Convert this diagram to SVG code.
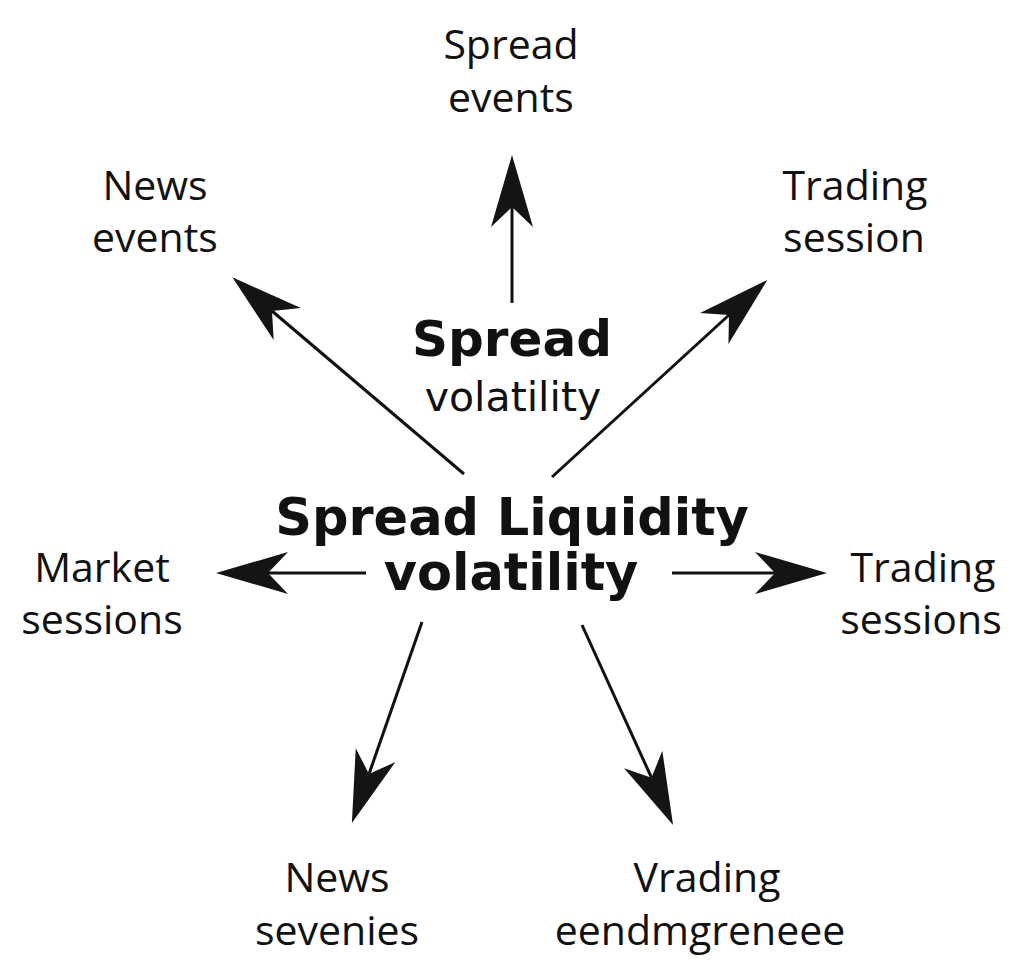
<svg xmlns="http://www.w3.org/2000/svg" width="1024" height="980" viewBox="0 0 1024 980">
  <style>
    .lbl { font-family: "Open Sans", "Noto Sans", sans-serif; font-size: 41px; fill: #111; text-anchor: middle; }
    .hub { font-family: "DejaVu Sans", sans-serif; font-weight: bold; fill: #111; text-anchor: middle; }
    .sub { font-family: "DejaVu Sans", sans-serif; font-size: 41px; fill: #111; text-anchor: middle; }
    .edge { stroke: #111; stroke-width: 3; fill: none; marker-end: url(#head); }
  </style>
  <defs>
    <marker id="head" markerUnits="userSpaceOnUse" viewBox="-22 -23 76 46" refX="0" refY="0" markerWidth="76" markerHeight="46" orient="auto">
      <path d="M52,0 L-20,-21 L0,0 L-20,21 Z" fill="#141414"/>
    </marker>
  </defs>
  <rect width="1024" height="980" fill="#ffffff"/>

  <g id="connectors">
    <line class="edge" x1="512" y1="303" x2="512" y2="207"/>
    <line class="edge" x1="464" y1="474" x2="272" y2="311"/>
    <line class="edge" x1="552" y1="477" x2="729" y2="315"/>
    <line class="edge" x1="366" y1="573" x2="268" y2="573"/>
    <line class="edge" x1="672" y1="573" x2="775" y2="573"/>
    <line class="edge" x1="422" y1="622" x2="369" y2="774"/>
    <line class="edge" x1="582" y1="625" x2="651.5" y2="777.7"/>
  </g>

  <g id="hub">
    <text class="hub" x="512" y="535" font-size="51">Spread Liquidity</text>
    <text class="hub" x="511" y="590" font-size="51">volatility</text>
  </g>

  <g id="spread-volatility">
    <text class="hub" x="512" y="356" font-size="50">Spread</text>
    <text class="sub" x="513" y="411">volatility</text>
  </g>

  <g id="spread-events">
    <text class="lbl" x="511" y="59">Spread</text>
    <text class="lbl" x="511" y="112">events</text>
  </g>

  <g id="news-events">
    <text class="lbl" x="155" y="200">News</text>
    <text class="lbl" x="155" y="252">events</text>
  </g>

  <g id="trading-session">
    <text class="lbl" x="855" y="200">Trading</text>
    <text class="lbl" x="854" y="252">session</text>
  </g>

  <g id="market-sessions">
    <text class="lbl" x="102" y="582">Market</text>
    <text class="lbl" x="102" y="634">sessions</text>
  </g>

  <g id="trading-sessions">
    <text class="lbl" x="923" y="582">Trading</text>
    <text class="lbl" x="921" y="634">sessions</text>
  </g>

  <g id="news-sevenies">
    <text class="lbl" x="337" y="892">News</text>
    <text class="lbl" x="337" y="945">sevenies</text>
  </g>

  <g id="vrading">
    <text class="lbl" x="707" y="892">Vrading</text>
    <text class="lbl" x="700" y="945">eendmgreneee</text>
  </g>
</svg>
